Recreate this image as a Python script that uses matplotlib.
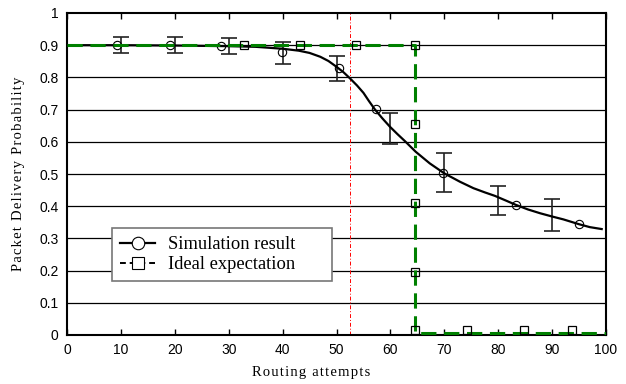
import matplotlib
matplotlib.use("Agg")
import matplotlib.pyplot as plt
from matplotlib.lines import Line2D

# Simulation result: smooth curve points
curve_x = [0, 10, 20, 30, 35, 40, 43, 45, 47, 48.5, 50, 51.3, 52.5, 53.8, 55, 56, 57.1,
           58.5, 59.9, 61.3, 62.7, 64.7, 67.3, 70, 72.9, 75.4, 77.5, 79.4, 81.5,
           83.3, 85.5, 87.8, 90, 92.1, 95, 97, 99.2]
curve_y = [0.900, 0.900, 0.899, 0.897, 0.895, 0.889, 0.883, 0.876, 0.864, 0.851,
           0.833, 0.816, 0.797, 0.775, 0.752, 0.727, 0.701, 0.673, 0.647, 0.624,
           0.602, 0.569, 0.533, 0.502, 0.476, 0.456, 0.443, 0.432, 0.417,
           0.404, 0.390, 0.378, 0.368, 0.359, 0.344, 0.335, 0.329]

# Simulation result: circle markers
circle_x = [9.2, 19.2, 28.5, 39.9, 50.5, 57.3, 69.8, 83.3, 95.0]
circle_y = [0.900, 0.900, 0.897, 0.880, 0.828, 0.702, 0.503, 0.404, 0.344]

# Error bars
err_x = [10, 20, 30, 40, 50, 60, 70, 80, 90]
err_low = [0.877, 0.877, 0.873, 0.843, 0.790, 0.594, 0.445, 0.374, 0.324]
err_high = [0.926, 0.926, 0.921, 0.910, 0.866, 0.688, 0.566, 0.463, 0.421]

# Ideal expectation
ideal_x = [0, 64.6, 64.6, 100]
ideal_y = [0.9, 0.9, 0.007, 0.007]
sq_x = [32.8, 43.2, 53.6, 64.6, 64.6, 64.6, 64.6, 64.6, 74.3, 84.7, 93.6]
sq_y = [0.900, 0.900, 0.900, 0.900, 0.655, 0.411, 0.195, 0.015, 0.015, 0.015, 0.015]

threshold_x = 52.5

x_ticks = list(range(0, 101, 10))
y_ticks = [0, 0.1, 0.2, 0.3, 0.4, 0.5, 0.6, 0.7, 0.8, 0.9, 1]
y_ticklabels = ["0", "0.1", "0.2", "0.3", "0.4", "0.5", "0.6", "0.7", "0.8", "0.9", "1"]

x_label = "Routing attempts"
y_label = "Packet Delivery Probability"
series_names = ["Simulation result", "Ideal expectation"]


def spaced(s):
    return "\u200a".join(s)


fig = plt.figure(figsize=(6.26, 3.84), dpi=100)
ax = fig.add_axes([67 / 626, 49 / 384, 539 / 626, 322 / 384])

for v in y_ticks[1:-1]:
    ax.axhline(v, color="black", lw=0.9, zorder=1)

ax.axvline(threshold_x, color="red", lw=0.7, ls=(0, (4, 2, 1, 2)), zorder=2)

mid = [(l + h) / 2 for l, h in zip(err_low, err_high)]
half = [(h - l) / 2 for l, h in zip(err_low, err_high)]
ax.errorbar(err_x, mid, yerr=half, fmt="none", ecolor="#222222", elinewidth=1.2,
            capsize=6, capthick=1.2, zorder=3)

ax.plot(curve_x, curve_y, color="black", lw=1.6, zorder=4)
ax.plot(circle_x, circle_y, ls="none", marker="o", ms=6, mfc="none", mec="black",
        mew=0.8, zorder=5)

ax.plot(ideal_x, ideal_y, color="green", lw=2.2, dashes=(5, 2.5), zorder=6)
ax.plot(sq_x, sq_y, ls="none", marker="s", ms=6, mfc="none", mec="black",
        mew=0.9, zorder=7)

ax.set_xlim(0, 100)
ax.set_ylim(0, 1)
ax.set_xticks(x_ticks)
ax.set_yticks(y_ticks)
ax.set_yticklabels(y_ticklabels)
ax.tick_params(axis="x", direction="in", top=True, length=4, width=1, pad=6)
ax.tick_params(axis="y", length=0, pad=6)
for lab in ax.get_xticklabels() + ax.get_yticklabels():
    lab.set_fontfamily("Liberation Sans")
    lab.set_fontsize(10)
for s in ax.spines.values():
    s.set_linewidth(1.5)

ax.set_xlabel(spaced(x_label), family=["Liberation Serif", "DejaVu Serif"], fontsize=10.5)
ax.xaxis.set_label_coords((311 - 67) / 539, -0.095)
ax.set_ylabel(spaced(y_label), family=["Liberation Serif", "DejaVu Serif"], fontsize=10.5)
ax.yaxis.set_label_coords(-0.078, 0.5)

handles = [
    Line2D([], [], color="black", lw=1.6, marker="o", ms=9, mfc="white", mec="black", mew=0.8),
    Line2D([], [], color="black", lw=1.4, ls=(0, (3, 2)), marker="s", ms=8, mfc="white", mec="black", mew=0.8),
]
leg = ax.legend(handles, [n + "      " for n in series_names],
                loc="upper left", bbox_to_anchor=(45 / 539, 107 / 322),
                borderaxespad=0, frameon=True, fancybox=False, framealpha=1,
                edgecolor="#777777", handlelength=1.9, handletextpad=0.7,
                borderpad=0.45, labelspacing=0.15,
                prop={"family": "Liberation Serif", "size": 13.3})
leg.get_frame().set_linewidth(1.2)
leg.set_zorder(10)

fig.savefig("out.png", dpi=100)
